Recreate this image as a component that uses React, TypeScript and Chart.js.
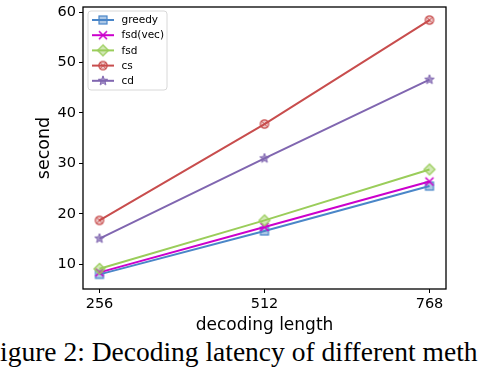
import React, { useEffect, useRef } from "react";
import { Chart, registerables } from "chart.js";

Chart.register(...registerables);

const lengths = [256, 512, 768];
const greedy = [8.0, 16.6, 25.5];
const fsdVec = [8.4, 17.4, 26.4];
const fsd = [9.1, 18.7, 28.8];
const cs = [18.7, 37.8, 58.4];
const cd = [15.1, 31.0, 46.6];
const seriesNames = ["greedy", "fsd(vec)", "fsd", "cs", "cd"];
const yTicks = [10, 20, 30, 40, 50, 60];
const xTicks = [256, 512, 768];

const colors = ["#4a86c8", "#cc00cc", "#9acd5a", "#c84d4d", "#8066b0"];
const markerKinds = ["square", "x", "diamond", "circlex", "star"];

function makeMarker(kind: string, color: string): HTMLCanvasElement {
  const s = 14;
  const c = document.createElement("canvas");
  c.width = s;
  c.height = s;
  const g = c.getContext("2d")!;
  const m = s / 2;
  g.strokeStyle = color;
  g.fillStyle = color;
  g.lineWidth = 1.2;
  const fillAlpha = 0.45;
  if (kind === "square") {
    g.globalAlpha = fillAlpha;
    g.fillRect(m - 4, m - 4, 8, 8);
    g.globalAlpha = 1;
    g.strokeRect(m - 4, m - 4, 8, 8);
  } else if (kind === "x") {
    g.lineWidth = 1.6;
    g.beginPath();
    g.moveTo(m - 4, m - 4);
    g.lineTo(m + 4, m + 4);
    g.moveTo(m + 4, m - 4);
    g.lineTo(m - 4, m + 4);
    g.stroke();
  } else if (kind === "diamond") {
    g.beginPath();
    g.moveTo(m, m - 5.5);
    g.lineTo(m + 5.5, m);
    g.lineTo(m, m + 5.5);
    g.lineTo(m - 5.5, m);
    g.closePath();
    g.globalAlpha = fillAlpha;
    g.fill();
    g.globalAlpha = 1;
    g.stroke();
  } else if (kind === "circlex") {
    g.beginPath();
    g.arc(m, m, 4.2, 0, Math.PI * 2);
    g.globalAlpha = 0.3;
    g.fill();
    g.globalAlpha = 1;
    g.stroke();
    g.beginPath();
    g.moveTo(m - 2.8, m - 2.8);
    g.lineTo(m + 2.8, m + 2.8);
    g.moveTo(m + 2.8, m - 2.8);
    g.lineTo(m - 2.8, m + 2.8);
    g.lineWidth = 1;
    g.stroke();
  } else if (kind === "star") {
    g.beginPath();
    for (let i = 0; i < 10; i++) {
      const r = i % 2 === 0 ? 5 : 2.1;
      const a = -Math.PI / 2 + (i * Math.PI) / 5;
      const px = m + r * Math.cos(a);
      const py = m + r * Math.sin(a);
      if (i === 0) g.moveTo(px, py);
      else g.lineTo(px, py);
    }
    g.closePath();
    g.globalAlpha = 0.7;
    g.fill();
    g.globalAlpha = 1;
    g.lineWidth = 1;
    g.stroke();
  }
  return c;
}

const boxPlugin = {
  id: "boxAndLegend",
  afterDraw(chart: any) {
    const { ctx, chartArea } = chart;
    ctx.save();
    ctx.strokeStyle = "#000";
    ctx.lineWidth = 1.3;
    ctx.strokeRect(chartArea.left, chartArea.top, chartArea.right - chartArea.left, chartArea.bottom - chartArea.top);
    // legend
    const lx = chartArea.left + 5;
    const ly = chartArea.top + 4;
    const lw = 79;
    const lh = 79;
    ctx.beginPath();
    const r = 3;
    ctx.moveTo(lx + r, ly);
    ctx.lineTo(lx + lw - r, ly);
    ctx.quadraticCurveTo(lx + lw, ly, lx + lw, ly + r);
    ctx.lineTo(lx + lw, ly + lh - r);
    ctx.quadraticCurveTo(lx + lw, ly + lh, lx + lw - r, ly + lh);
    ctx.lineTo(lx + r, ly + lh);
    ctx.quadraticCurveTo(lx, ly + lh, lx, ly + lh - r);
    ctx.lineTo(lx, ly + r);
    ctx.quadraticCurveTo(lx, ly, lx + r, ly);
    ctx.closePath();
    ctx.fillStyle = "rgba(255,255,255,0.85)";
    ctx.fill();
    ctx.strokeStyle = "#d8d8d8";
    ctx.lineWidth = 1;
    ctx.stroke();
    chart.data.datasets.forEach((ds: any, i: number) => {
      const y = ly + 9 + i * 15.2;
      ctx.strokeStyle = ds.borderColor;
      ctx.lineWidth = 2;
      ctx.beginPath();
      ctx.moveTo(lx + 4, y);
      ctx.lineTo(lx + 26, y);
      ctx.stroke();
      const img = ds.pointStyle as HTMLCanvasElement;
      ctx.drawImage(img, lx + 15 - img.width / 2, y - img.height / 2);
      ctx.fillStyle = "#000";
      ctx.font = "10.5px 'DejaVu Sans'";
      ctx.textBaseline = "middle";
      ctx.textAlign = "left";
      ctx.fillText(ds.label, lx + 33.5, y + 0.5);
    });
    ctx.restore();
  },
};

export default function App() {
  const ref = useRef<HTMLCanvasElement>(null);
  useEffect(() => {
    const seriesData = [greedy, fsdVec, fsd, cs, cd];
    const datasets = seriesData.map((vals, i) => ({
      label: seriesNames[i],
      data: vals.map((v, j) => ({ x: lengths[j], y: v })),
      borderColor: colors[i],
      backgroundColor: colors[i],
      borderWidth: 2,
      pointStyle: makeMarker(markerKinds[i], colors[i]) as any,
      pointRadius: 5,
      order: 5 - i,
    }));
    const chart = new Chart(ref.current!, {
      type: "line",
      data: { datasets },
      plugins: [boxPlugin],
      options: {
        animation: false,
        responsive: false,
        layout: { padding: { top: 3, right: 34, left: 0, bottom: 0 } },
        plugins: { legend: { display: false }, tooltip: { enabled: false } },
        scales: {
          x: {
            type: "linear",
            min: 230.4,
            max: 793.6,
            afterBuildTicks: (axis: any) => {
              axis.ticks = xTicks.map((v) => ({ value: v }));
            },
            afterFit: (axis: any) => {
              axis.height = 47;
              axis.paddingLeft = 0;
              axis.paddingRight = 0;
            },
            grid: { display: true, drawOnChartArea: false, drawTicks: true, tickLength: 4, color: "#000" },
            border: { display: false },
            ticks: { color: "#000", font: { family: "DejaVu Sans", size: 14.5 }, padding: 3, maxRotation: 0 },
            title: { display: true, text: "decoding length", color: "#000", font: { family: "DejaVu Sans", size: 17 }, padding: { top: 0, bottom: 0 } },
          },
          y: {
            type: "linear",
            min: 5.1,
            max: 61.0,
            afterBuildTicks: (axis: any) => {
              axis.ticks = yTicks.map((v) => ({ value: v }));
            },
            afterFit: (axis: any) => {
              axis.width = 83;
              axis.paddingTop = 0;
              axis.paddingBottom = 0;
            },
            grid: { display: true, drawOnChartArea: false, drawTicks: true, tickLength: 4, color: "#000" },
            border: { display: false },
            ticks: { color: "#000", font: { family: "DejaVu Sans", size: 14.5 }, padding: 3 },
            title: { display: true, text: "second", color: "#000", font: { family: "DejaVu Sans", size: 17.5 }, padding: { top: 34, bottom: 0 } },
          },
        },
      },
    });
    return () => chart.destroy();
  }, []);
  return (
    <div style={{ position: "fixed", left: 0, top: 0, width: 480, height: 368, background: "#fff", overflow: "hidden" }}>
      <canvas ref={ref} width={480} height={336} style={{ display: "block", width: 480, height: 336 }} />
      <div
        style={{
          position: "absolute",
          left: 0,
          top: 336,
          lineHeight: "normal",
          whiteSpace: "nowrap",
          fontFamily: "'Liberation Serif', 'Times New Roman', serif",
          fontSize: 27.5,
          color: "#000",
        }}
      >
        igure 2: Decoding latency of different meth
      </div>
    </div>
  );
}
